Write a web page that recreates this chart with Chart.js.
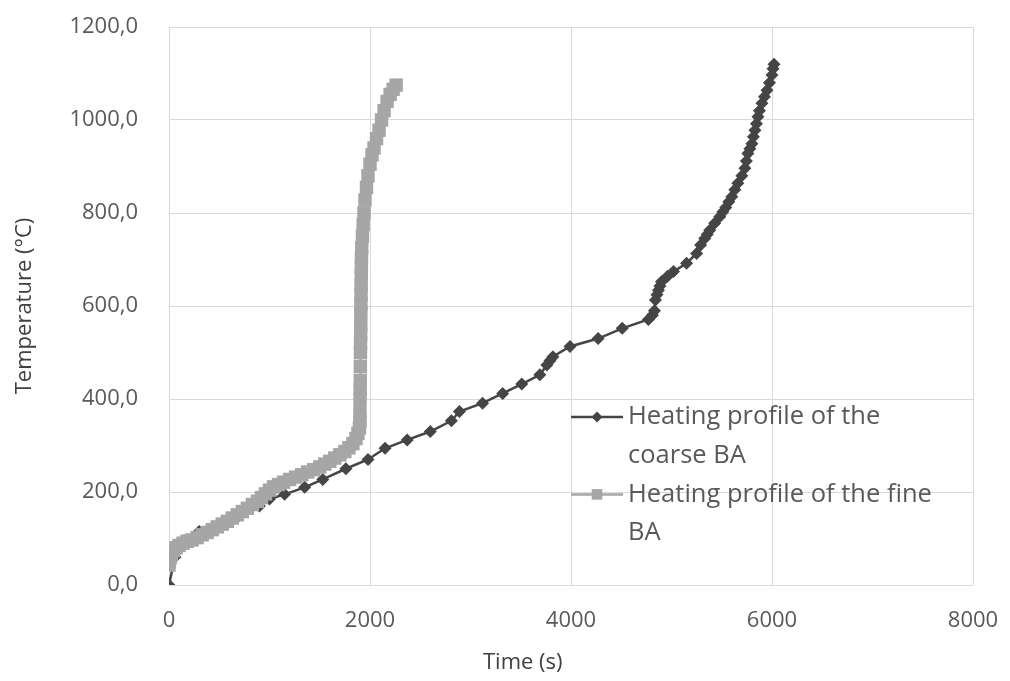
<!DOCTYPE html>
<html>
<head>
<meta charset="utf-8">
<script src="https://cdn.jsdelivr.net/npm/chart.js@4.4.1/dist/chart.umd.min.js"></script>
<style>
html,body{margin:0;padding:0;background:#fff;}
#wrap{width:1010px;height:681px;position:relative;}
</style>
</head>
<body>
<div id="wrap"><canvas id="c" width="1010" height="681"></canvas></div>
<script>
// Coarse BA heating profile: time (s), temperature (°C)
const coarseTime = [0, 60, 150, 300, 500, 700, 900, 1000, 1150, 1350, 1530, 1760, 1980, 2150, 2370, 2600, 2810, 2890, 3120, 3320, 3510, 3690, 3760, 3790, 3820, 3990, 4270, 4510, 4770, 4810, 4830, 4840, 4855, 4870, 4885, 4900, 4960, 5020, 5150, 5250, 5290, 5330, 5355, 5380, 5430, 5480, 5510, 5540, 5570, 5600, 5630, 5660, 5700, 5730, 5745, 5760, 5780, 5800, 5815, 5830, 5845, 5860, 5875, 5900, 5925, 5950, 5975, 6000, 6010, 6020];
const coarseTemp = [0, 60, 95, 115, 130, 150, 170, 185, 195, 210, 227, 250, 270, 294, 312, 330, 353, 373, 391, 412, 432, 452, 473, 482, 491, 513, 530, 552, 571, 580, 590, 613, 624, 634, 643, 652, 664, 674, 692, 713, 731, 745, 754, 763, 778, 792, 802, 812, 824, 835, 850, 864, 880, 896, 912, 928, 938, 949, 964, 978, 992, 1007, 1020, 1036, 1050, 1064, 1080, 1097, 1110, 1120];

// Fine BA heating profile: time (s), temperature (°C)
const fineTime = [0, 0, 10, 25, 45, 70, 100, 140, 180, 230, 280, 330, 380, 430, 480, 530, 580, 630, 680, 730, 780, 830, 880, 920, 960, 1000, 1040, 1090, 1140, 1200, 1260, 1320, 1380, 1440, 1500, 1550, 1600, 1650, 1700, 1750, 1790, 1830, 1860, 1880, 1895, 1900, 1900, 1901, 1902, 1903, 1904, 1905, 1906, 1907, 1908, 1909, 1910, 1911, 1912, 1913, 1914, 1915, 1918, 1925, 1932, 1940, 1950, 1965, 1980, 2000, 2020, 2040, 2065, 2090, 2115, 2140, 2170, 2200, 2230, 2260];
const fineTemp = [43, 50, 58, 66, 74, 80, 85, 90, 94, 97, 102, 108, 113, 119, 125, 131, 137, 144, 151, 158, 165, 173, 180, 188, 196, 204, 211, 216, 221, 227, 232, 237, 243, 248, 254, 260, 266, 273, 280, 287, 295, 304, 315, 326, 338, 352, 372, 400, 420, 440, 470, 500, 520, 540, 558, 585, 605, 625, 645, 665, 685, 705, 725, 750, 775, 800, 828, 855, 880, 905, 925, 940, 960, 978, 1000, 1020, 1040, 1055, 1066, 1075];

const seriesNames = [["Heating profile of the", "coarse BA"], ["Heating profile of the fine", "BA"]];
const xTitle = 'Time (s)';
const yTitle = 'Temperature (°C)';
const xTicks = [0, 2000, 4000, 6000, 8000];
const yTicks = [0, 200, 400, 600, 800, 1000, 1200];

const COARSE = '#454545';
const FINE = '#a6a6a6';
const FONT = "'Open Sans', sans-serif";

function pts(xs, ys){ return xs.map((x,i)=>({x:x, y:ys[i]})); }

const legendPlugin = {
  id: 'customLegend',
  afterDatasetsDraw(chart){
    const ctx = chart.ctx;
    const xs = chart.scales.x, ys = chart.scales.y;
    const lx = xs.getPixelForValue(4000);
    const items = [
      {color: COARSE, style: 'rectRot', r: 5.5, lines: seriesNames[0]},
      {color: FINE, style: 'rect', r: 7.5, lines: seriesNames[1]}
    ];
    const top = ys.getPixelForValue(400) + 18;
    const lh = 38.7;
    ctx.save();
    items.forEach((it, k) => {
      const y0 = top + k * 2 * lh;
      ctx.strokeStyle = it.color; ctx.lineWidth = 2.5;
      ctx.beginPath(); ctx.moveTo(lx, y0); ctx.lineTo(lx + 52, y0); ctx.stroke();
      ctx.fillStyle = it.color;
      Chart.helpers.drawPoint(ctx, {pointStyle: it.style, radius: it.r, borderWidth: 0}, lx + 26, y0);
      ctx.fillStyle = '#595959';
      ctx.font = "25.5px " + FONT;
      ctx.textBaseline = 'middle';
      ctx.textAlign = 'left';
      it.lines.forEach((t, j) => ctx.fillText(t, lx + 57, y0 + j * lh));
    });
    // x-axis title (sits left of centre in the original)
    ctx.fillStyle = '#404040';
    ctx.font = "22px " + FONT;
    ctx.textAlign = 'center';
    ctx.textBaseline = 'middle';
    ctx.fillText(xTitle, xs.getPixelForValue(3520), 663);
    ctx.restore();
  }
};

new Chart(document.getElementById('c'), {
  type: 'scatter',
  data: {
    datasets: [
      {label: seriesNames[0].join(' '), data: pts(coarseTime, coarseTemp), showLine: true,
       borderColor: COARSE, backgroundColor: COARSE, borderWidth: 2.5,
       pointStyle: 'rectRot', pointRadius: 6.5, pointBorderWidth: 0, order: 2},
      {label: seriesNames[1].join(' '), data: pts(fineTime, fineTemp), showLine: true,
       borderColor: FINE, backgroundColor: FINE, borderWidth: 2.5,
       pointStyle: 'rect', pointRadius: 9.5, pointBorderWidth: 0, order: 1}
    ]
  },
  options: {
    responsive: false,
    animation: false,
    layout: {padding: {left: 0, right: 37, top: 27, bottom: 0}},
    plugins: {legend: {display: false}, tooltip: {enabled: false}},
    scales: {
      x: {
        type: 'linear', min: 0, max: 8000,
        afterBuildTicks: s => { s.ticks = xTicks.map(v => ({value: v})); },
        afterFit: s => { s.height = 96; },
        grid: {color: '#d9d9d9', lineWidth: 1, drawTicks: true, tickLength: 20, tickColor: 'rgba(0,0,0,0)'},
        border: {display: false},
        ticks: {color: '#595959', font: {family: FONT, size: 22}, padding: 3, maxRotation: 0,
                callback: v => String(v)},
        title: {display: false}
      },
      y: {
        type: 'linear', min: 0, max: 1200,
        afterBuildTicks: s => { s.ticks = yTicks.map(v => ({value: v})); },
        afterFit: s => { s.width = 169; },
        grid: {color: '#d9d9d9', lineWidth: 1, drawTicks: true, tickLength: 28, tickColor: 'rgba(0,0,0,0)'},
        border: {display: false},
        ticks: {color: '#595959', font: {family: FONT, size: 22}, padding: 3,
                callback: v => v.toFixed(1).replace('.', ',')},
        title: {display: true, text: yTitle, color: '#404040', font: {family: FONT, size: 22},
                padding: {top: 12, bottom: 0}}
      }
    }
  },
  plugins: [legendPlugin]
});
</script>
</body>
</html>
